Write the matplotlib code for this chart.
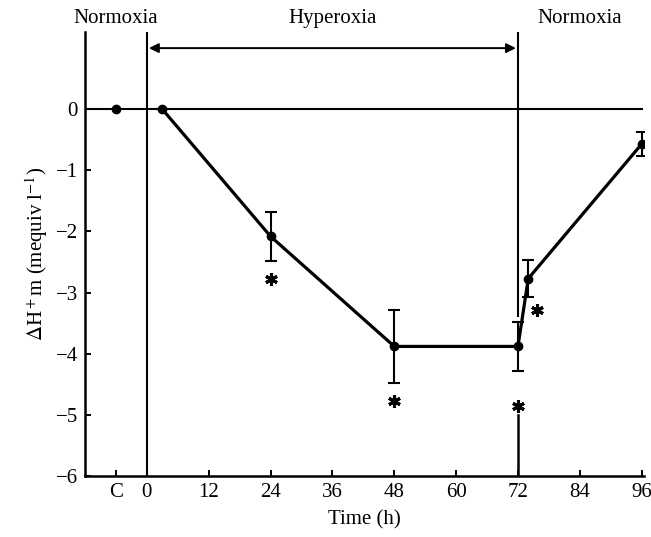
import numpy as np
import matplotlib
matplotlib.use('Agg')
import matplotlib.pyplot as plt

plt.rcParams['font.family'] = ['Liberation Serif', 'DejaVu Serif']
plt.rcParams['mathtext.fontset'] = 'stix'

# control point (plotted at the "C" tick)
control_x = -6
control_y = 0.0

# time course
hours = [3, 24, 48, 72, 74, 96]
delta_h = [0.0, -2.08, -3.88, -3.88, -2.77, -0.57]
sem = [0.0, 0.4, 0.6, 0.4, 0.3, 0.2]

# significance marks
star_x = [24, 48, 72, 75.6]
star_y = [-2.78, -4.77, -4.85, -3.28]

xtick_pos = [-6, 0, 12, 24, 36, 48, 60, 72, 84, 96]
xtick_lab = ['C', '0', '12', '24', '36', '48', '60', '72', '84', '96']
ytick_pos = [0, -1, -2, -3, -4, -5, -6]

phases = ['Normoxia', 'Hyperoxia', 'Normoxia']
phase_x = [-6, 36, 84]

ytop = 1.26

fig = plt.figure(figsize=(6.51, 5.37), dpi=100)
ax = fig.add_axes([0.1306, 0.1136, 0.859, 0.8264])
ax.set_xlim(-12, 96.5)
ax.set_ylim(-6, ytop)

ax.plot([-12, 96], [0, 0], color='black', lw=1.5, zorder=1)
ax.plot([0, 0], [-6, ytop], color='black', lw=1.5, zorder=1)
ax.plot([72, 72], [-3.39, ytop], color='black', lw=1.5, zorder=1)
ax.plot([72, 72], [-6, -5.0], color='black', lw=1.8, zorder=1)

ax.errorbar(hours, delta_h, yerr=sem, color='black', lw=2.3, marker='o',
            ms=6, capsize=4, elinewidth=1.5, capthick=1.5, zorder=3)
ax.plot([control_x], [control_y], 'o', color='black', ms=6, zorder=3)

# asterisks
ax.plot(star_x, star_y, linestyle='none', marker=(6, 2, 0), ms=9,
        mew=2.2, color='black')

ax.annotate('', xy=(0.4, 1.0), xytext=(71.6, 1.0),
            arrowprops=dict(arrowstyle='<|-|>', color='black', lw=1.4,
                            mutation_scale=14, shrinkA=0, shrinkB=0))

for name, px in zip(phases, phase_x):
    ax.text(px, 1.49, name, ha='center', va='center', fontsize=15,
            clip_on=False)

ax.set_xticks(xtick_pos)
ax.set_xticklabels(xtick_lab)
ax.set_yticks(ytick_pos)
ax.set_yticklabels(['0'] + ['\u2212%d' % abs(v) for v in ytick_pos[1:]])
ax.tick_params(direction='in', length=4, width=1.4, labelsize=15, pad=5)

for side in ['top', 'right']:
    ax.spines[side].set_visible(False)
for side in ['left', 'bottom']:
    ax.spines[side].set_linewidth(1.8)

ax.set_xlabel('Time (h)', fontsize=15, labelpad=6)
ax.set_ylabel(r'$\Delta$H$^+$m (mequiv l$^{-1}$)', fontsize=15, labelpad=4)

fig.savefig('out.png', dpi=100)
